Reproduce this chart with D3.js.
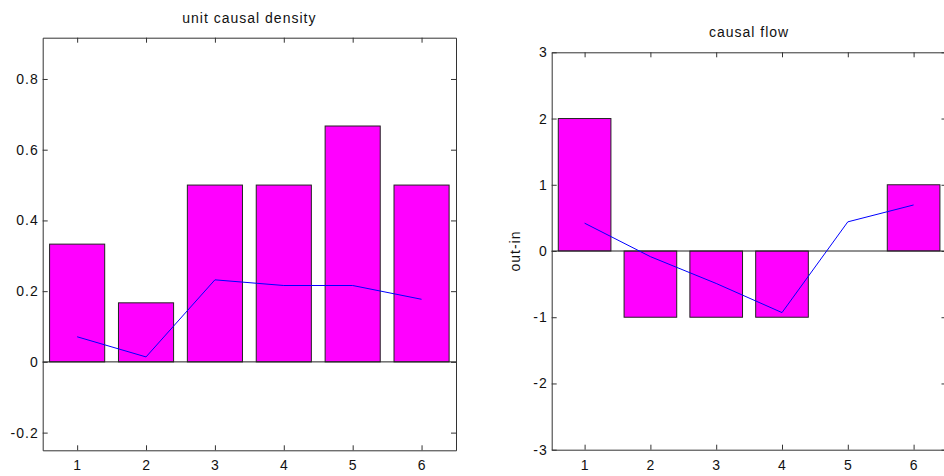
<!DOCTYPE html>
<html>
<head>
<meta charset="utf-8">
<script src="https://cdn.jsdelivr.net/npm/d3@7"></script>
<style>
  body { margin: 0; background: #fff; }
  svg { display: block; font-family: "Liberation Sans", Arial, sans-serif; }
  .lbl { font-size: 14px; letter-spacing: 1px; fill: #111; }
</style>
</head>
<body>
<svg width="944" height="476"></svg>
<script>
// node index on x
var nodes = [1, 2, 3, 4, 5, 6];

// left panel: unit causal density (bars) + line
var densityBars = [0.333, 0.167, 0.5, 0.5, 0.667, 0.5];
var densityLine = [0.071, 0.014, 0.232, 0.216, 0.216, 0.177];
var densityTicks = [-0.2, 0, 0.2, 0.4, 0.6, 0.8];

// right panel: causal flow (out-in)
var flowBars = [2, -1, -1, -1, 0, 1];
var flowLine = [0.42, -0.085, -0.49, -0.93, 0.44, 0.695];
var flowTicks = [-3, -2, -1, 0, 1, 2, 3];

var svg = d3.select("svg");

// plain hyphen minus like the original plot
var fmt = (d) => String(+d.toFixed(2));

function drawPanel(opt) {
  var x = d3.scaleLinear().domain([0.5, 6.5]).range([opt.left, opt.right]),
    y = d3.scaleLinear().domain(opt.yDomain).range([opt.bottom, opt.top]);

  var g = svg.append("g");
  var tickLen = 5;

  // bars
  g.append("g")
    .selectAll("rect")
    .data(opt.bars)
    .enter()
    .append("rect")
    .attr("x", (d, i) => x(nodes[i] - 0.4))
    .attr("width", x(0.8) - x(0))
    .attr("y", (d) => y(Math.max(0, d)))
    .attr("height", (d) => Math.abs(y(d) - y(0)))
    .attr("fill", "#ff00ff")
    .attr("stroke", "#222")
    .attr("stroke-width", 1);

  // baseline
  g.append("line")
    .attr("x1", opt.left).attr("x2", opt.right)
    .attr("y1", y(0)).attr("y2", y(0))
    .attr("stroke", "#222");

  // line series
  var line = d3.line()
    .x((d, i) => x(nodes[i]))
    .y((d) => y(d));
  g.append("path")
    .datum(opt.line)
    .attr("d", line)
    .attr("fill", "none")
    .attr("stroke", "#0000ff")
    .attr("stroke-width", 1);

  // box + inward ticks on all sides
  var axis_x = d3.axisBottom(x).tickValues(nodes).tickSizeInner(-tickLen).tickSizeOuter(0).tickPadding(10).tickFormat(fmt),
    axis_y = d3.axisLeft(y).tickValues(opt.ticks).tickSizeInner(-tickLen).tickSizeOuter(0).tickPadding(4).tickFormat(fmt),
    axis_top = d3.axisTop(x).tickValues(nodes).tickSizeInner(-tickLen).tickSizeOuter(0).tickFormat(""),
    axis_right = d3.axisRight(y).tickValues(opt.ticks).tickSizeInner(-tickLen).tickSizeOuter(0).tickFormat("");

  g.append("g").attr("transform", "translate(0," + opt.bottom + ")").call(axis_x);
  g.append("g").attr("transform", "translate(" + opt.left + ",0)").call(axis_y);
  g.append("g").attr("transform", "translate(0," + opt.top + ")").call(axis_top);
  g.append("g").attr("transform", "translate(" + opt.right + ",0)").call(axis_right);

  g.selectAll(".domain").attr("stroke", "#333");
  g.selectAll(".tick line").attr("stroke", "#333");
  g.selectAll(".tick text").attr("class", "lbl").attr("font-size", null).attr("font-family", null);

  // title
  g.append("text")
    .attr("class", "lbl")
    .attr("x", (opt.left + opt.right) / 2)
    .attr("y", opt.top - 15)
    .attr("text-anchor", "middle")
    .text(opt.title);

  if (opt.ylabel) {
    g.append("text")
      .attr("class", "lbl")
      .attr("transform", "translate(" + (opt.left - 32) + "," + ((opt.top + opt.bottom) / 2) + ") rotate(-90)")
      .attr("text-anchor", "middle")
      .text(opt.ylabel);
  }
}

drawPanel({
  left: 42.7, right: 456, top: 37.7, bottom: 450.3,
  yDomain: [-0.25, 0.9167],
  bars: densityBars, line: densityLine, ticks: densityTicks,
  title: "unit causal density"
});

drawPanel({
  left: 551.7, right: 946.5, top: 52.3, bottom: 449.7,
  yDomain: [-3, 3],
  bars: flowBars, line: flowLine, ticks: flowTicks,
  title: "causal flow", ylabel: "out-in"
});
</script>
</body>
</html>
